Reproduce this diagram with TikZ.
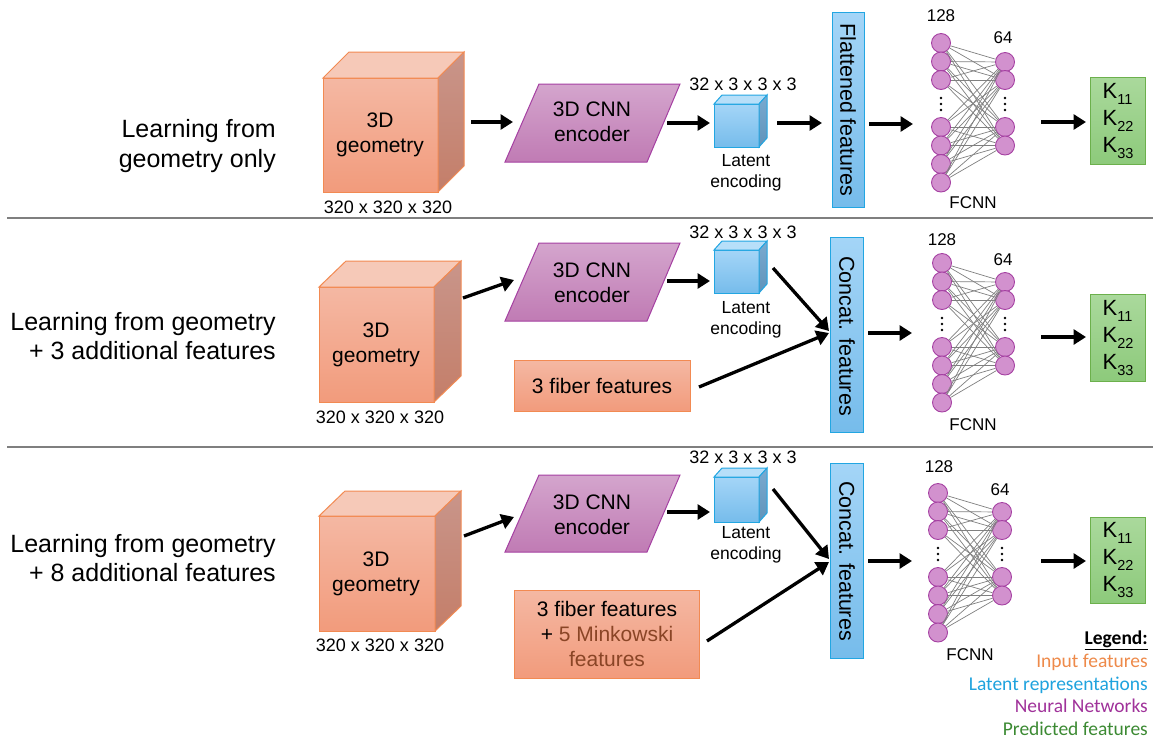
\documentclass[tikz,border=0pt]{standalone}
\usepackage{fontspec}
\setmainfont{Liberation Sans}
\newfontfamily\legendfont{Carlito}
\usetikzlibrary{arrows.meta}

% palette
\definecolor{geoEdge}{HTML}{F28A52}
\definecolor{geoFrontT}{HTML}{F4B8A3}
\definecolor{geoFrontB}{HTML}{F29B7C}
\definecolor{geoTop}{HTML}{F6C9B8}
\definecolor{geoSideT}{HTML}{C9958A}
\definecolor{geoSideB}{HTML}{C47E69}
\definecolor{cnnEdge}{HTML}{A540A2}
\definecolor{cnnT}{HTML}{D4A5CD}
\definecolor{cnnB}{HTML}{C07BB4}
\definecolor{latEdge}{HTML}{22A6E2}
\definecolor{latT}{HTML}{A4D5F7}
\definecolor{latB}{HTML}{76BCEB}
\definecolor{latTop}{HTML}{B7DFF9}
\definecolor{latSideT}{HTML}{7AAAD0}
\definecolor{latSideB}{HTML}{5F93BA}
\definecolor{outEdge}{HTML}{6CB04C}
\definecolor{outT}{HTML}{AAD99C}
\definecolor{outB}{HTML}{8DCA7B}
\definecolor{neuronFill}{HTML}{D291CE}
\definecolor{minkBrown}{HTML}{8A4526}
\definecolor{legOrange}{HTML}{EE8A4A}
\definecolor{legBlue}{HTML}{1FA3DE}
\definecolor{legPurple}{HTML}{A0329A}
\definecolor{legGreen}{HTML}{3C8A33}
\definecolor{sepGray}{HTML}{7F7F7F}

\tikzset{
  geo front/.style={draw=geoEdge, line width=1pt, top color=geoFrontT, bottom color=geoFrontB},
  geo top/.style={draw=geoEdge, line width=1pt, fill=geoTop},
  geo side/.style={draw=geoEdge, line width=1pt, top color=geoSideT, bottom color=geoSideB},
  lat front/.style={draw=latEdge, line width=1pt, top color=latT, bottom color=latB},
  lat top/.style={draw=latEdge, line width=1pt, fill=latTop},
  lat side/.style={draw=latEdge, line width=1pt, top color=latSideT, bottom color=latSideB},
  cnn/.style={draw=cnnEdge, line width=1pt, top color=cnnT, bottom color=cnnB},
  featbox/.style={draw=latEdge, line width=1pt, top color=latT, bottom color=latB},
  inbox/.style={draw=geoEdge, line width=1pt, top color=geoFrontT, bottom color=geoFrontB},
  outbox/.style={draw=outEdge, line width=1pt, top color=outT, bottom color=outB},
  neuron/.style={circle, draw=cnnEdge, line width=0.9pt, fill=neuronFill, minimum size=19pt, inner sep=0pt},
  synapse/.style={draw=gray, line width=0.7pt},
  flow/.style={line width=3.3pt, -{Triangle[length=12.5pt,width=15pt]}},
  sep/.style={draw=sepGray, line width=1.5pt},
  rowlabel/.style={font=\fontsize{25}{29.5}\selectfont, align=right, inner sep=0pt, anchor=east},
  boxtext/.style={font=\fontsize{21}{25}\selectfont, align=center, inner sep=0pt},
  dimtext/.style={font=\fontsize{18}{20}\selectfont, inner sep=0pt},
  smalltext/.style={font=\fontsize{17.5}{21.5}\selectfont, align=center, inner sep=0pt},
  feattext/.style={font=\fontsize{21.5}{25}\selectfont, inner sep=0pt, rotate=-90},
  nntext/.style={font=\fontsize{17}{20}\selectfont, inner sep=0pt},
  ktext/.style={font=\fontsize{22}{27}\selectfont, align=left, inner sep=0pt},
  legendtext/.style={font=\legendfont\fontsize{19.5}{21}\selectfont, inner sep=0pt, anchor=east},
}

% a box seen in perspective: front face, top face and right face
\newcommand\solidbox[7]{%
  \path[#7 front] (#1,#2) rectangle ++(#3,#4);
  \path[#7 top] (#1,#2) -- ++(#5,-#6) -- ++(#3,0) -- ++(-#5,#6) -- cycle;
  \path[#7 side] ({#1+#3},#2) -- ++(#5,-#6) -- ++(0,#4) -- ++(-#5,#6) -- cycle;
}

% encoder parallelogram between two heights
\newcommand\encoderbox[2]{%
  \path[cnn] (539,#1) -- (680,#1) -- (647,#2) -- (505,#2) -- cycle;
}

% fully connected layer pair: left x, right x, top y, name prefix
\newcommand\fcnn[4]{%
  \foreach \i/\o in {1/0,2/18.5,3/37,4/84,5/102.5,6/121,7/139.5}
    \node[neuron] (#4l\i) at (#1,{#3+\o}) {};
  \foreach \j/\o in {1/19,2/37,3/84,4/102.5}
    \node[neuron] (#4r\j) at (#2,{#3+\o}) {};
  \foreach \i in {1,...,7}
    \foreach \j in {1,...,4}
      \draw[synapse] (#4l\i) -- (#4r\j);
  \foreach \k in {0,6,12} {
    \fill (#1,{#3+55+\k}) circle[radius=1.3pt];
    \fill (#2,{#3+55+\k}) circle[radius=1.3pt];
  }
}

\newcommand\Kc[1]{K\raisebox{-0.3em}{\fontsize{14.5}{14.5}\selectfont #1}}

\begin{document}
\begin{tikzpicture}[x=1pt, y=-1pt]
\useasboundingbox (0,0) rectangle (1153,740);
\fill[white] (0,0) rectangle (1153,740);

% row separators
\draw[sep] (7,218) -- (1153,218);
\draw[sep] (7,447) -- (1153,447);

% ---------------- row 1: geometry only ----------------
\node[rowlabel] (r1) at (276,146) {Learning from\\geometry only};

\solidbox{323}{78}{115}{114}{26}{26}{geo}
\node[boxtext] (g1) at (380,135) {3D\\geometry};
\node[dimtext] (g1d) at (388,207) {320 x 320 x 320};

\encoderbox{84}{162}
\node[boxtext] (e1) at (592,122) {3D CNN\\encoder};

\solidbox{714}{104}{45}{43}{8}{9}{lat}
\node[dimtext] (z1d) at (743,84) {32 x 3 x 3 x 3};
\node[smalltext] (z1) at (746,173) {Latent\\encoding};

\path[featbox] (832,12) rectangle (864,207);
\node[feattext] (f1) at (848,110) {Flattened features};

\fcnn{941}{1005}{43}{a}
\node[nntext] (n1a) at (941,16) {128};
\node[nntext] (n1b) at (1003,38) {64};
\node[nntext] (n1c) at (973,203) {FCNN};

\path[outbox] (1090,77) rectangle (1145,164);
\node[ktext] (k1) at (1118,121) {\Kc{11}\\\Kc{22}\\\Kc{33}};

\coordinate (g1o) at (471,122); \coordinate (e1i) at (513,122);
\coordinate (e1o) at (667,123); \coordinate (z1i) at (710,123);
\coordinate (z1o) at (777,123); \coordinate (f1i) at (822,123);
\coordinate (f1o) at (869,124); \coordinate (n1i) at (913,124);
\coordinate (n1o) at (1041,122); \coordinate (k1i) at (1086,122);
\draw[flow] (g1o) -- (e1i);
\draw[flow] (e1o) -- (z1i);
\draw[flow] (z1o) -- (f1i);
\draw[flow] (f1o) -- (n1i);
\draw[flow] (n1o) -- (k1i);

% ---------------- row 2: geometry + 3 features ----------------
\node[rowlabel] (r2) at (276,336) {Learning from geometry\\+ 3 additional features};

\solidbox{319}{287}{115}{115}{27}{26}{geo}
\node[boxtext] (g2) at (376,345) {3D\\geometry};
\node[dimtext] (g2d) at (380,417) {320 x 320 x 320};

\encoderbox{243}{321}
\node[boxtext] (e2) at (592,283) {3D CNN\\encoder};

\solidbox{714}{250}{45}{43}{8}{9}{lat}
\node[dimtext] (z2d) at (743,232) {32 x 3 x 3 x 3};
\node[smalltext] (z2) at (746,320) {Latent\\encoding};

\path[inbox] (514,360) rectangle (690,411);
\node[boxtext] (p2) at (602,386) {3 fiber features};

\path[featbox] (830,237) rectangle (863,432);
\node[feattext] (c2) at (847,336) {Concat. features};

\fcnn{942}{1005}{263}{b}
\node[nntext] (n2a) at (942,240) {128};
\node[nntext] (n2b) at (1003,260) {64};
\node[nntext] (n2c) at (973,425) {FCNN};

\path[outbox] (1090,294) rectangle (1145,381);
\node[ktext] (k2) at (1118,338) {\Kc{11}\\\Kc{22}\\\Kc{33}};

\coordinate (g2o) at (463,298); \coordinate (e2i) at (514,280);
\coordinate (e2o) at (667,281); \coordinate (z2i) at (710,281);
\coordinate (z2o) at (773,268); \coordinate (c2i) at (829,331);
\coordinate (p2o) at (699,387); \coordinate (c2j) at (829,333);
\coordinate (c2o) at (868,333); \coordinate (n2i) at (912,333);
\coordinate (n2o) at (1041,337); \coordinate (k2i) at (1086,337);
\draw[flow] (g2o) -- (e2i);
\draw[flow] (e2o) -- (z2i);
\draw[flow] (z2o) -- (c2i);
\draw[flow] (p2o) -- (c2j);
\draw[flow] (c2o) -- (n2i);
\draw[flow] (n2o) -- (k2i);

% ---------------- row 3: geometry + 8 features ----------------
\node[rowlabel] (r3) at (276,558) {Learning from geometry\\+ 8 additional features};

\solidbox{319}{516}{116}{115}{26}{25}{geo}
\node[boxtext] (g3) at (376,574) {3D\\geometry};
\node[dimtext] (g3d) at (380,645) {320 x 320 x 320};

\encoderbox{475}{552}
\node[boxtext] (e3) at (592,515) {3D CNN\\encoder};

\solidbox{714}{477}{45}{45}{8}{9}{lat}
\node[dimtext] (z3d) at (743,457) {32 x 3 x 3 x 3};
\node[smalltext] (z3) at (746,545) {Latent\\encoding};

\path[inbox] (514,590) rectangle (699,678);
\node[boxtext] (p3) at (607,634) {3 fiber features\\+ \textcolor{minkBrown}{5 Minkowski}\\\textcolor{minkBrown}{features}};

\path[featbox] (830,463) rectangle (863,658);
\node[feattext] (c3) at (847,561) {Concat. features};

\fcnn{938}{1002}{493}{c}
\node[nntext] (n3a) at (939,467) {128};
\node[nntext] (n3b) at (1000,490) {64};
\node[nntext] (n3c) at (970,655) {FCNN};

\path[outbox] (1090,517) rectangle (1145,603);
\node[ktext] (k3) at (1118,560) {\Kc{11}\\\Kc{22}\\\Kc{33}};

\coordinate (g3o) at (464,536); \coordinate (e3i) at (514,517);
\coordinate (e3o) at (667,512); \coordinate (z3i) at (710,512);
\coordinate (z3o) at (773,489); \coordinate (c3i) at (829,559);
\coordinate (p3o) at (707,641); \coordinate (c3j) at (829,562);
\coordinate (c3o) at (868,561); \coordinate (n3i) at (912,561);
\coordinate (n3o) at (1041,561); \coordinate (k3i) at (1086,561);
\draw[flow] (g3o) -- (e3i);
\draw[flow] (e3o) -- (z3i);
\draw[flow] (z3o) -- (c3i);
\draw[flow] (p3o) -- (c3j);
\draw[flow] (c3o) -- (n3i);
\draw[flow] (n3o) -- (k3i);

% ---------------- legend ----------------
\node[legendtext] (lg0) at (1148,640) {\textbf{\underline{Legend:}}};
\node[legendtext, text=legOrange] (lg1) at (1148,662) {Input features};
\node[legendtext, text=legBlue] (lg2) at (1148,685) {Latent representations};
\node[legendtext, text=legPurple] (lg3) at (1148,706) {Neural Networks};
\node[legendtext, text=legGreen] (lg4) at (1148,729) {Predicted features};
\end{tikzpicture}
\end{document}
